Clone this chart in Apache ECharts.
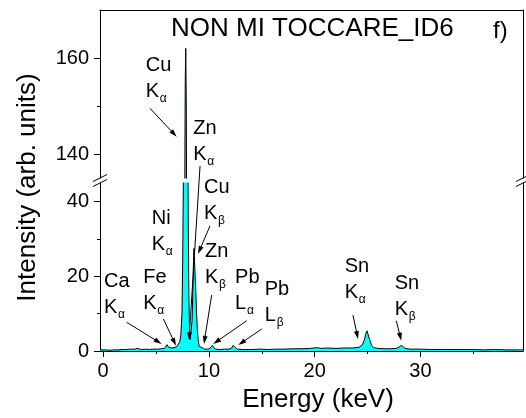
<!DOCTYPE html>
<html>
<head>
<meta charset="utf-8">
<title>NON MI TOCCARE_ID6</title>
<script src="https://cdn.jsdelivr.net/npm/echarts@6.0.0/dist/echarts.min.js"></script>
<style>
	html, body { margin: 0; padding: 0; background: #fff; }
	#main { width: 526px; height: 418px; }
</style>
</head>
<body>
<div id="main"></div>
<script type="text/javascript">
	// spectrum (keV / arb. units)
	var energy = [-0.3, 0.2, 0.6, 1.0, 1.4, 1.8, 2.2, 2.5, 2.6, 2.7, 3.0, 3.2, 3.3, 3.6, 4.0, 4.4, 4.8, 5.2, 5.5, 5.8,
		5.95, 6.05, 6.15, 6.3, 6.5, 6.7, 6.85, 6.95, 7.1, 7.25, 7.35, 7.45, 7.52, 7.58, 7.64, 7.7, 7.76, 7.81, 7.86, 7.92,
		7.98, 8.04, 8.1, 8.16, 8.22, 8.3, 8.4, 8.48, 8.54, 8.59, 8.64, 8.7, 8.76, 8.82, 8.9, 8.98, 9.08, 9.2, 9.3, 9.36,
		9.45, 9.6, 9.9, 10.1, 10.22, 10.32, 10.42, 10.6, 11.0, 11.5, 11.9, 12.15, 12.3, 12.38, 12.5, 12.7, 13.2, 14.0, 14.8, 15.6,
		16.4, 17.2, 18.0, 18.8, 19.6, 20.2, 20.6, 21.2, 22.0, 22.8, 23.6, 24.2, 24.5, 24.7, 24.85, 24.95, 25.05, 25.2, 25.4, 25.6,
		26.0, 26.6, 27.2, 27.7, 27.95, 28.1, 28.2, 28.35, 28.55, 29.0, 30.0, 31.0, 32.0, 33.0, 34.0, 35.0, 36.0, 37.0, 38.0, 39.0, 39.7];
	var intensity = [0.3, 0.3, 0.2, 0.3, 0.3, 0.4, 0.4, 0.5, 0.8, 0.5, 0.5, 0.7, 0.5, 0.4, 0.5, 0.4, 0.5, 0.5, 0.6, 0.7,
		1.2, 1.7, 1.1, 0.7, 0.8, 0.9, 1.2, 1.1, 1.4, 2.5, 4.5, 10, 24, 45, 80, 125, 155, 162, 150, 115,
		70, 38, 16, 6, 3, 3.5, 8, 16, 24, 27.5, 24, 20, 16, 11, 6, 3, 1.2, 0.7, 1.0, 1.1,
		0.7, 0.5, 0.5, 0.7, 1.2, 1.5, 1.0, 0.5, 0.4, 0.5, 0.5, 0.8, 1.5, 1.6, 0.9, 0.5, 0.4, 0.4, 0.5, 0.4,
		0.5, 0.5, 0.6, 0.6, 0.7, 0.9, 0.7, 0.8, 0.7, 0.8, 0.8, 1.0, 1.6, 3.0, 4.8, 5.4, 4.9, 3.0, 1.4, 0.9,
		0.7, 0.6, 0.6, 0.7, 1.0, 1.4, 1.5, 1.1, 0.7, 0.5, 0.5, 0.4, 0.4, 0.4, 0.4, 0.4, 0.3, 0.4, 0.3, 0.3, 0.3];

	// ticks
	var xTicks = [0, 10, 20, 30];
	var xMinorTicks = [5, 15, 25, 35];
	var upperTicks = [140, 160];
	var upperMinorTicks = [150];
	var lowerTicks = [0, 20, 40];
	var lowerMinorTicks = [10, 30];

	// peak labels (panel 0 = upper part of the broken axis, 1 = lower part)
	var labelElement = ['Cu', 'Zn', 'Cu', 'Ni', 'Zn', 'Ca', 'Fe', 'Pb', 'Pb', 'Sn', 'Sn'];
	var labelLine = ['K', 'K', 'K', 'K', 'K', 'K', 'K', 'L', 'L', 'K', 'K'];
	var labelSub = ['α', 'α', 'β', 'α', 'β', 'α', 'α', 'α', 'β', 'α', 'β'];
	var labelE = [4.02, 8.52, 9.53, 4.59, 9.63, 0.08, 3.79, 12.47, 15.27, 22.84, 27.57];
	var labelV = [158.5, 145.3, 43.8, 35.5, 26.6, 18.6, 19.7, 19.7, 16.5, 22.6, 18.1];
	var labelPanel = [0, 0, 1, 1, 1, 1, 1, 1, 1, 1, 1];

	// arrows, tail -> head
	var arrowFromE = [4.43, 9.16, 10.1, 2.22, 5.69, 10.26, 13.57, 14.99, 23.62, 27.72];
	var arrowFromV = [149.5, 137.5, 33.5, 7.7, 8.6, 15.0, 8.1, 5.9, 9.6, 8.1];
	var arrowFromPanel = [0, 0, 1, 1, 1, 1, 1, 1, 1, 1];
	var arrowToE = [6.95, 8.12, 8.97, 5.53, 6.89, 9.53, 10.41, 12.78, 24.1, 28.19];
	var arrowToV = [143.6, 2.9, 26.0, 1.9, 1.4, 1.9, 1.9, 1.6, 3.2, 2.75];
	var arrowToPanel = [0, 1, 1, 1, 1, 1, 1, 1, 1, 1];

	var FONT = 'Liberation Sans, Arial, sans-serif';
	var GRID_LEFT = 100, GRID_RIGHT = 3;
	var UP_TOP = 10, UP_H = 168;
	var LOW_TOP = 183, LOW_H = 168;

	var spectrum = [];
	for (var i = 0; i < energy.length; i++) {
		spectrum.push([energy[i], intensity[i]]);
	}

	function majorY(grid, min, max, ticks, pos) {
		return {
			type: 'value', gridIndex: grid, position: pos || 'left', min: min, max: max,
			axisLine: { show: true, onZero: false, lineStyle: { color: '#000', width: 1 } },
			axisTick: { show: true, inside: false, length: 6, customValues: ticks, lineStyle: { color: '#000' } },
			axisLabel: { show: true, customValues: ticks, margin: 11, color: '#000', fontSize: 20, fontFamily: FONT },
			splitLine: { show: false }
		};
	}

	// axis used only for a frame line or for short minor ticks
	function plainAxis(grid, min, max, pos, ticks, len) {
		return {
			type: 'value', gridIndex: grid, position: pos, min: min, max: max,
			axisLine: { show: !ticks, onZero: false, lineStyle: { color: '#000', width: 1 } },
			axisTick: { show: !!ticks, inside: false, length: len || 3, customValues: ticks || [], lineStyle: { color: '#000' } },
			axisLabel: { show: false },
			splitLine: { show: false }
		};
	}

	var myChart = echarts.init(document.getElementById('main'));
	var option = {
		animation: false,
		title: {
			text: 'NON MI TOCCARE_ID6',
			left: 166, top: 11,
			textStyle: { fontSize: 26, fontWeight: 'normal', color: '#000', fontFamily: FONT }
		},
		grid: [
			{ left: GRID_LEFT, right: GRID_RIGHT, top: UP_TOP, height: UP_H },
			{ left: GRID_LEFT, right: GRID_RIGHT, top: LOW_TOP, height: LOW_H }
		],
		xAxis: [
			plainAxis(0, -0.3, 39.7, 'top'),
			{
				type: 'value', gridIndex: 1, position: 'bottom', min: -0.3, max: 39.7,
				name: 'Energy (keV)', nameLocation: 'middle', nameGap: 36,
				nameTextStyle: { fontSize: 26, color: '#000', fontFamily: FONT, padding: [0, 0, 0, 13] },
				axisLine: { show: true, onZero: false, lineStyle: { color: '#000', width: 1 } },
				axisTick: { show: true, inside: false, length: 6, customValues: xTicks, lineStyle: { color: '#000' } },
				axisLabel: { show: true, customValues: xTicks, margin: 10, color: '#000', fontSize: 20, fontFamily: FONT },
				splitLine: { show: false }
			},
			plainAxis(1, -0.3, 39.7, 'bottom', xMinorTicks, 3)
		],
		yAxis: [
			majorY(0, 135, 170, upperTicks),
			plainAxis(0, 135, 170, 'left', upperMinorTicks, 3),
			plainAxis(0, 135, 170, 'right'),
			majorY(1, 0, 45, lowerTicks),
			plainAxis(1, 0, 45, 'left', lowerMinorTicks, 3),
			plainAxis(1, 0, 45, 'right')
		],
		series: [{
			type: 'line', xAxisIndex: 0, yAxisIndex: 0, data: spectrum,
			symbol: 'none', lineStyle: { color: '#000', width: 1 },
			areaStyle: { color: '#00ffff', opacity: 1, origin: 0 }
		}, {
			type: 'line', xAxisIndex: 1, yAxisIndex: 3, data: spectrum,
			symbol: 'none', lineStyle: { color: '#000', width: 1 },
			areaStyle: { color: '#00ffff', opacity: 1, origin: 'start' }
		}]
	};
	myChart.setOption(option);

	// annotations: positions converted from data space
	function toPx(panel, e, v) {
		return myChart.convertToPixel({ seriesIndex: panel }, [e, v]);
	}

	var graphics = [];
	for (var k = 0; k < labelElement.length; k++) {
		var p = toPx(labelPanel[k], labelE[k], labelV[k]);
		graphics.push({
			type: 'text', x: p[0], y: p[1], z: 100,
			style: { text: labelElement[k], fill: '#000', fontSize: 20, fontFamily: FONT, verticalAlign: 'middle' }
		});
		graphics.push({
			type: 'text', x: p[0], y: p[1] + 26, z: 100,
			style: { text: labelLine[k], fill: '#000', fontSize: 20, fontFamily: FONT, verticalAlign: 'middle' }
		});
		graphics.push({
			type: 'text', x: p[0] + (labelLine[k] === 'K' ? 14 : 12), y: p[1] + 33, z: 100,
			style: { text: labelSub[k], fill: '#000', fontSize: 12, fontFamily: FONT, verticalAlign: 'middle' }
		});
	}

	for (var a = 0; a < arrowFromE.length; a++) {
		var t = toPx(arrowFromPanel[a], arrowFromE[a], arrowFromV[a]);
		var h = toPx(arrowToPanel[a], arrowToE[a], arrowToV[a]);
		var dx = h[0] - t[0], dy = h[1] - t[1];
		var len = Math.sqrt(dx * dx + dy * dy);
		var ux = dx / len, uy = dy / len;
		graphics.push({
			type: 'line', z: 100,
			shape: { x1: t[0], y1: t[1], x2: h[0] - ux * 5, y2: h[1] - uy * 5 },
			style: { stroke: '#000', lineWidth: 1 }
		});
		graphics.push({
			type: 'polygon', z: 100,
			shape: { points: [
				[h[0], h[1]],
				[h[0] - ux * 8 - uy * 2.5, h[1] - uy * 8 + ux * 2.5],
				[h[0] - ux * 8 + uy * 2.5, h[1] - uy * 8 - ux * 2.5]
			] },
			style: { fill: '#000' }
		});
	}

	// axis break marks between the two panels
	var breakY = (UP_TOP + UP_H + LOW_TOP) / 2;
	var rightX = 526 - GRID_RIGHT;
	[GRID_LEFT, rightX].forEach(function(bx) {
		graphics.push({ type: 'line', z: 100, shape: { x1: bx - 7, y1: breakY + 1, x2: bx + 7, y2: breakY - 6 }, style: { stroke: '#000', lineWidth: 1 } });
		graphics.push({ type: 'line', z: 100, shape: { x1: bx - 7, y1: breakY + 6, x2: bx + 7, y2: breakY - 1 }, style: { stroke: '#000', lineWidth: 1 } });
	});

	// y title and panel letter
	graphics.push({
		type: 'text', x: 28, y: (UP_TOP + LOW_TOP + LOW_H) / 2 + 7, rotation: Math.PI / 2,
		style: { text: 'Intensity (arb. units)', fill: '#000', fontSize: 26, fontFamily: FONT, align: 'center', verticalAlign: 'middle' }
	});
	graphics.push({
		type: 'text', x: 493, y: 31,
		style: { text: 'f)', fill: '#000', fontSize: 24, fontFamily: FONT, verticalAlign: 'middle' }
	});

	myChart.setOption({ graphic: graphics });
</script>
</body>
</html>
